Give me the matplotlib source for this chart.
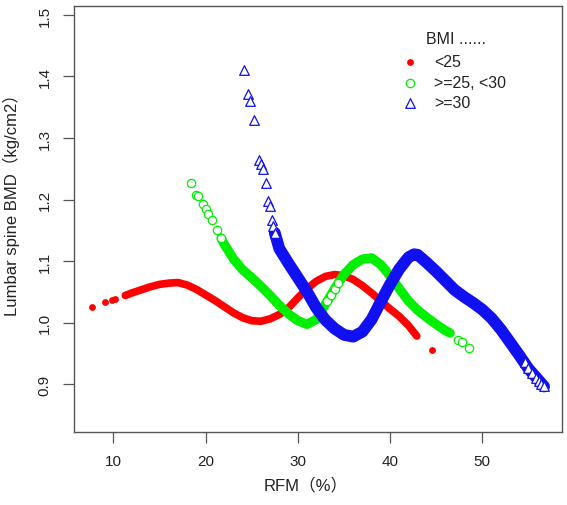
import matplotlib
matplotlib.use("Agg")
import matplotlib.pyplot as plt

plt.rcParams['font.family'] = ['Liberation Sans', 'Noto Sans CJK SC', 'DejaVu Sans']

# BMI < 25 (red dots)
red_sparse_x = [7.7, 9.1, 9.9, 10.15, 44.6]
red_sparse_y = [1.025, 1.033, 1.036, 1.038, 0.956]
red_x = [11.3, 12, 13, 14, 15, 16, 17, 18, 19, 20, 21, 22, 23, 24, 25, 26, 27, 28,
         29, 30, 31, 32, 33, 34, 35, 36, 37, 38, 39, 40, 41, 42, 42.9]
red_y = [1.044, 1.048, 1.053, 1.058, 1.062, 1.064, 1.065, 1.061, 1.054, 1.045, 1.036,
         1.026, 1.016, 1.008, 1.003, 1.002, 1.006, 1.013, 1.024, 1.040, 1.055, 1.067,
         1.075, 1.078, 1.076, 1.070, 1.060, 1.048, 1.035, 1.022, 1.010, 0.995, 0.978]

# BMI >= 25, < 30 (green circles)
green_sparse_x = [18.4, 19.0, 19.2, 19.7, 20.0, 20.3, 20.7, 21.2, 21.7, 33.2, 33.6, 34.0, 34.4, 47.4, 47.8, 48.6]
green_sparse_y = [1.227, 1.208, 1.205, 1.192, 1.185, 1.177, 1.166, 1.150, 1.137,
                  1.035, 1.045, 1.055, 1.065, 0.972, 0.968, 0.959]
green_x = [21.7, 22, 23, 24, 25, 26, 27, 28, 29, 30, 31, 32, 33, 34, 35, 36, 37, 38,
           39, 40, 41, 42, 43, 44, 45, 46, 46.5]
green_y = [1.137, 1.128, 1.104, 1.086, 1.073, 1.059, 1.044, 1.028, 1.014, 1.003, 0.997,
           1.005, 1.030, 1.055, 1.078, 1.094, 1.103, 1.105, 1.094, 1.076, 1.055, 1.035,
           1.020, 1.008, 0.997, 0.987, 0.983]

# BMI >= 30 (blue triangles)
blue_sparse_x = [24.2, 24.6, 24.8, 25.2, 25.8, 26.0, 26.2, 26.5, 26.8, 27.0, 27.2, 27.35, 27.5,
                 54.6, 55.0, 55.4, 55.8, 56.1, 56.4, 56.7]
blue_sparse_y = [1.411, 1.371, 1.360, 1.330, 1.265, 1.257, 1.249, 1.227, 1.197, 1.189, 1.167,
                 1.157, 1.146, 0.936, 0.926, 0.918, 0.910, 0.905, 0.900, 0.896]
blue_x = [27.5, 28, 29, 30, 31, 32, 33, 34, 35, 36, 37, 38, 39, 40, 41, 42, 42.6, 43, 44,
          45, 46, 47, 48, 49, 50, 51, 52, 53, 54, 55, 56, 56.7]
blue_y = [1.146, 1.120, 1.096, 1.073, 1.050, 1.024, 1.004, 0.990, 0.980, 0.977, 0.985,
          1.005, 1.034, 1.062, 1.087, 1.106, 1.111, 1.110, 1.097, 1.083, 1.068, 1.053,
          1.042, 1.032, 1.021, 1.007, 0.989, 0.968, 0.947, 0.925, 0.908, 0.896]

legend_labels = ['<25', '>=25, <30', '>=30']
x_ticks = [10, 20, 30, 40, 50]
y_ticks = [0.9, 1.0, 1.1, 1.2, 1.3, 1.4, 1.5]

RED, GREEN, BLUE = '#ff0000', '#00f000', '#1010f0'
TXT = '#222222'
W, H = 567, 506

fig = plt.figure(figsize=(W / 100, H / 100), dpi=100)
ax = fig.add_axes([74 / W, 1 - 433 / H, (562 - 74) / W, (433 - 7) / H])

# red
ax.plot(red_x, red_y, color=RED, lw=5.5, solid_capstyle='round', solid_joinstyle='round', zorder=2)
ax.scatter(red_sparse_x, red_sparse_y, s=24, color=RED, linewidths=0, zorder=2)
# green
ax.plot(green_x, green_y, color=GREEN, lw=6.8, solid_capstyle='round', solid_joinstyle='round', zorder=3)
ax.scatter(green_sparse_x, green_sparse_y, s=36, facecolors='white', edgecolors=GREEN, linewidths=0.9, zorder=3)
# blue
ax.plot(blue_x, blue_y, color=BLUE, lw=8.5, solid_capstyle='round', solid_joinstyle='round', zorder=4)
ax.scatter(blue_sparse_x, blue_sparse_y, s=48, marker='^', facecolors='white', edgecolors=BLUE, linewidths=0.9, zorder=4)

ax.set_xlim(5.74, 58.64)
ax.set_ylim(0.822, 1.5146)
ax.set_xticks(x_ticks)
ax.set_yticks(y_ticks)
ax.set_xticklabels([str(t) for t in x_ticks])
ax.set_yticklabels(['%.1f' % t for t in y_ticks], rotation=90, va='center')
ax.tick_params(direction='out', length=8, width=0.9, color='#555555', labelsize=11,
               labelcolor=TXT, pad=8)
for s in ax.spines.values():
    s.set_color('#555555')
    s.set_linewidth(1.0)

ax.set_xlabel('RFM（%）', fontsize=12, color=TXT)
ax.set_ylabel('Lumbar spine BMD（kg/cm2）', fontsize=12, color=TXT)
ax.xaxis.set_label_coords(0.475, -0.105)
ax.yaxis.set_label_coords(-0.11, 0.545)

# legend (no box, like R)
fig.text(456 / W, 1 - 40 / H, 'BMI ......', ha='center', va='center', fontsize=11.5, color=TXT)
rows = [63, 84, 104]
ax.scatter([410 / W], [1 - rows[0] / H], s=24, color=RED, linewidths=0, transform=fig.transFigure, clip_on=False)
ax.scatter([410 / W], [1 - rows[1] / H], s=36, facecolors='white', edgecolors=GREEN, linewidths=0.9,
           transform=fig.transFigure, clip_on=False)
ax.scatter([410 / W], [1 - rows[2] / H], s=48, marker='^', facecolors='white', edgecolors=BLUE,
           linewidths=0.9, transform=fig.transFigure, clip_on=False)
for lab, r in zip(legend_labels, rows):
    fig.text(434 / W, 1 - r / H, lab, ha='left', va='center', fontsize=11.5, color=TXT)

plt.savefig('out.png', dpi=100)
